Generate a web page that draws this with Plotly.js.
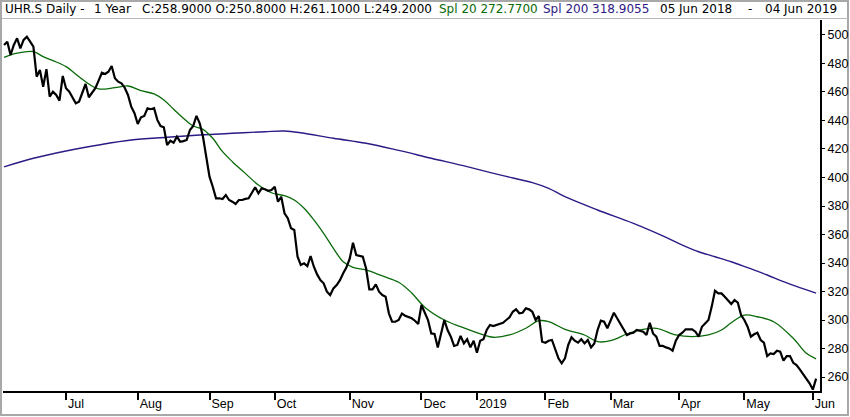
<!DOCTYPE html>
<html>
<head>
<meta charset="utf-8">
<script src="https://cdn.plot.ly/plotly-3.0.1.min.js"></script>
<style>
html,body{margin:0;padding:0;background:#fff;}
#chart{width:850px;height:417px;}
</style>
</head>
<body>
<div id="chart"></div>
<script>
// Daily closes, 05 Jun 2018 .. 04 Jun 2019 (trading-day index 0..249)
const closes = [
493,495.3,486,493,497.7,490.6,496.5,498.8,495.3,491.8,
470.7,475.4,463.7,476,456.7,460.2,457.9,453.9,471.2,462.6,
460.2,456.3,452.1,453.2,459,465.6,456.3,459.1,462.6,468,
473.5,472.6,474.2,478.2,469.6,467.2,466.1,463,457.9,449.7,
445.1,437.5,442.2,443.2,448.6,447.9,448.6,440.4,436.1,435.2,
422.8,425.8,424.4,428.6,425.1,425.5,426.3,433.3,436.1,443.2,
438,428.6,414.6,400.6,393.5,385.4,385.4,384.9,387.7,384.2,
383,381.4,384.2,384.2,385,385.4,389.3,393.1,388.9,392.4,
391.7,390.7,391.2,393.5,383,386.5,374.9,371.4,364.4,363.2,
344.4,338.6,339.8,337.9,344.9,337.4,332,328.1,325.8,319.9,
317.5,322.2,324.5,328,332.8,337,343,354.2,345.6,344.9,
344.4,336.3,321.5,321.5,325,319.9,317.5,316.4,304.7,298.8,
298.8,300,304.5,303,301.9,301.2,299.5,297.2,310.5,305.8,
300,290.6,290.2,280.8,290.6,300,293,288.3,281.8,282.5,
288.8,283.6,286.5,280.8,285.5,277,285.5,286.5,293,296.5,
295.8,296.5,297.2,298.1,300,301.9,305.8,307.5,304.7,305.1,
308.2,307.5,305.8,300,302.8,284.8,284.1,285.5,286,280.1,
273.1,269.6,273.1,282.5,287.9,285.5,284.1,286.5,283.6,286,
280.8,283.6,293,299.5,298.8,294.2,300,305.1,301.2,297.2,
293,289.5,290.6,291.1,293,292.5,291.8,289.5,298.1,290.6,
288.3,281.8,281.8,280.8,280.1,278.5,285.5,289.5,291.1,293.5,
293.5,293.5,291.8,288.3,295.3,297.7,300,309.4,320.6,318.7,
318.7,316.4,314,311.2,314,312.2,303.5,300,295.3,288.3,
290,291.1,286,284.1,274.7,276.6,276.1,278.5,277.8,271.5,
274.7,274.7,270,268.4,265.4,262.1,258,255.6,251.2,258.9
];
const dayIndex = closes.map((_, i) => i);

// Simple moving average 20 (at sample days)
const spl20Days = [0,4,9,12,15,19,23,26,29,34,38,42,46,49,52,55,58,61,64,67,70,74,78,82,86,89,92,95,98,101,104,107,111,116,121,125,129,135,140,147,150,155,160,164,167,172,178,182,186,191,195,200,206,211,216,220,223,227,231,236,242,246,249];
const spl20Vals = [484.3,487.2,488.3,484.8,482,477.8,470.7,465.6,462.1,463,464.2,460.9,458.6,454.4,447.9,441.5,436.1,433.8,427.5,418.1,411.1,402.9,394.7,389.3,387.2,384.2,378.4,370.2,360.8,350.3,340.9,337,335.1,330.9,326.5,319,309,300,295.3,289.5,287.9,289.5,294.2,299.5,298.8,293.5,289.5,284.8,285.5,290.2,293,294.2,289.5,288.3,289.5,293,298.1,303.5,302.3,298.8,287.2,276.6,272.77];

// Simple moving average 200 (at sample days)
const spl200Days = [0,9,19,29,39,50,60,70,80,86,91,101,111,121,131,142,152,162,167,172,182,193,203,208,213,218,223,228,234,239,244,249];
const spl200Vals = [407.5,413.5,418.6,422.8,426.3,428.2,429.8,431,432.1,432.6,431.4,427.5,424,419,413.5,407.6,401.8,396.4,392.4,386.5,377.2,367.8,358,352.6,347.9,344.4,340.9,336.7,331.6,326.9,322.7,318.9];

// Month ticks (trading-day index of first session of each month)
const monthTickDays = [19,41,63,83,106,128,145,166,186,207,227,248];
const monthTickLabels = ['Jul','Aug','Sep','Oct','Nov','Dec','2019','Feb','Mar','Apr','May','Jun'];

// Header texts
const headerParts = [
  {t:'UHR.S Daily -', px:3, a:'left', c:'#000'},
  {t:'1 Year', px:92, a:'left', c:'#000'},
  {t:'C:258.9000 O:250.8000 H:261.1000 L:249.2000', px:140, a:'left', c:'#000'},
  {t:'Spl 20 272.7700', px:437, a:'left', c:'#0a6a0a'},
  {t:'Spl 200 318.9055', px:541, a:'left', c:'#2e1a86'},
  {t:'05 Jun 2018', px:658, a:'left', c:'#000'},
  {t:'-', px:750, a:'center', c:'#000'},
  {t:'04 Jun 2019', px:839, a:'right', c:'#000'}
];

const M = {l:3, r:30, t:20, b:26};
const W = 850, H = 417;
const pw = W - M.l - M.r, ph = H - M.t - M.b;
const px2paper = px => (px - M.l) / pw;
const py2paper = py => (H - M.b - py) / ph;

const traces = [
  {x: spl200Days, y: spl200Vals, type:'scatter', mode:'lines',
   line:{color:'#2e1a86', width:1.4, shape:'spline'}, hoverinfo:'skip'},
  {x: spl20Days, y: spl20Vals, type:'scatter', mode:'lines',
   line:{color:'#0a6a0a', width:1.3, shape:'spline'}, hoverinfo:'skip'},
  {x: dayIndex, y: closes, type:'scatter', mode:'lines',
   line:{color:'#000000', width:2.2}, hoverinfo:'skip'}
];

const annotations = headerParts.map(p => ({
  text: p.t, xref:'paper', yref:'paper',
  x: px2paper(p.px), y: py2paper(9),
  xanchor:p.a, yanchor:'middle', showarrow:false,
  font:{family:'DejaVu Sans, Verdana, sans-serif', size:12, color:p.c}
}));

const shapes = [
  {type:'rect', xref:'paper', yref:'paper',
   x0: px2paper(1), x1: px2paper(848), y0: py2paper(415), y1: py2paper(1),
   line:{color:'#a8a8a8', width:2}, fillcolor:'rgba(0,0,0,0)', layer:'below'},
  {type:'line', xref:'paper', yref:'paper',
   x0: px2paper(2), x1: px2paper(848), y0: py2paper(18.5), y1: py2paper(18.5),
   line:{color:'#b8b8b8', width:1}}
];

const layout = {
  width: W, height: H,
  margin: M,
  paper_bgcolor:'#ffffff', plot_bgcolor:'#ffffff',
  showlegend:false,
  font:{family:'Liberation Sans, Arial, sans-serif', size:12, color:'#000'},
  xaxis:{
    type:'linear', range:[-0.32, 250.2],
    tickmode:'array', tickvals: monthTickDays, ticktext: monthTickLabels,
    ticks:'outside', ticklen:7, tickwidth:2, tickcolor:'#000',
    ticklabelposition:'outside right',
    showline:true, linecolor:'#000', linewidth:2,
    showgrid:false, zeroline:false, fixedrange:true,
    tickfont:{family:'Liberation Sans, Arial, sans-serif', size:12.5, color:'#000'}
  },
  yaxis:{
    side:'right', range:[250.2, 510.5],
    tickmode:'linear', tick0:0, dtick:20,
    ticks:'outside', ticklen:3, tickwidth:1, tickcolor:'#000',
    showline:true, linecolor:'#000', linewidth:2,
    showgrid:false, zeroline:false, fixedrange:true,
    tickfont:{family:'Liberation Sans, Arial, sans-serif', size:12.5, color:'#000'}
  },
  annotations: annotations,
  shapes: shapes
};

Plotly.newPlot('chart', traces, layout, {displayModeBar:false, staticPlot:true});
</script>
</body>
</html>
